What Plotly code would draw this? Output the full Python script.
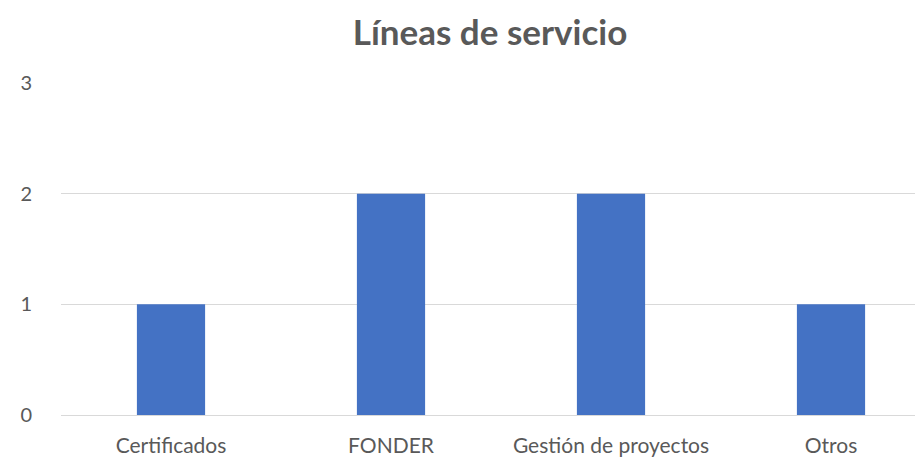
import plotly.graph_objects as go

categories = ["Certificados", "FONDER", "Gestión de proyectos", "Otros"]
values = [1, 2, 2, 1]
title_text = "Líneas de servicio"

# The page body has an 8px default margin, so the figure is drawn at (8, 8).
OFF = 8
W, H = 923 - OFF, 457 - OFF
left, top, bottom = 61 - OFF, 83 - OFF, 42
cat_px = 220.0
plot_w = W - left
x_max = -0.5 + plot_w / cat_px

fig = go.Figure(go.Bar(
    x=list(range(len(categories))),
    y=values,
    width=0.31,
    marker=dict(color="#4472C4", line=dict(width=0)),
))

fig.update_layout(
    width=W, height=H,
    margin=dict(l=left, r=0, t=top, b=bottom, autoexpand=False),
    paper_bgcolor="white", plot_bgcolor="white",
    showlegend=False,
    font=dict(family="Lato, 'Open Sans', sans-serif", color="#595959", size=20),
    title=dict(text="<b>" + title_text + "</b>", x=(490 - OFF) / W, xref="container", xanchor="center",
               y=1 - (33 - OFF) / H, yref="container", yanchor="middle",
               font=dict(size=35, color="#595959")),
    xaxis=dict(range=[-0.5, x_max], tickmode="array",
               tickvals=list(range(len(categories))), ticktext=categories,
               showgrid=False, zeroline=False, showline=False,
               ticks="outside", ticklen=0, ticklabelstandoff=12,
               tickfont=dict(size=21, color="#595959")),
    yaxis=dict(range=[0, 3], tickvals=[0, 1, 2, 3], showgrid=True,
               gridcolor="#D9D9D9", gridwidth=1, zeroline=True,
               zerolinecolor="#D9D9D9", zerolinewidth=1, showline=False,
               ticks="outside", ticklen=0, ticklabelstandoff=24,
               tickfont=dict(size=20, color="#595959")),
)

fig.write_html("out.html")
